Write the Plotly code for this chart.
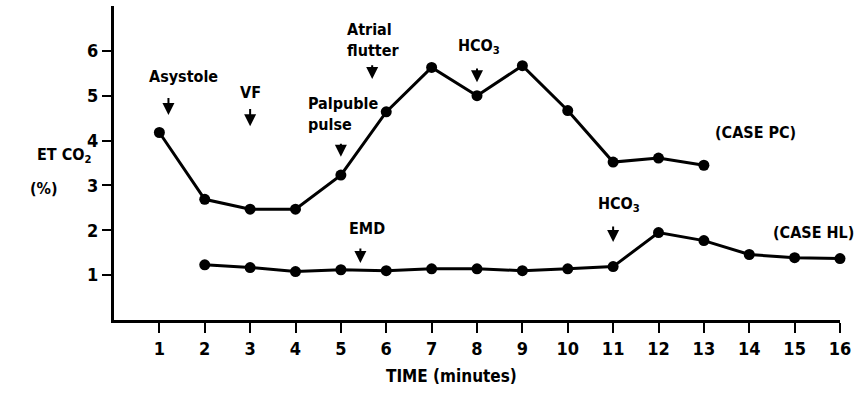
import plotly.graph_objects as go

minutes_pc = [1, 2, 3, 4, 5, 6, 7, 8, 9, 10, 11, 12, 13]
etco2_pc = [4.18, 2.69, 2.47, 2.47, 3.23, 4.64, 5.63, 5.0, 5.67, 4.67, 3.52, 3.61, 3.45]

minutes_hl = [2, 3, 4, 5, 6, 7, 8, 9, 10, 11, 12, 13, 14, 15, 16]
etco2_hl = [1.23, 1.17, 1.08, 1.12, 1.10, 1.14, 1.14, 1.10, 1.14, 1.19, 1.95, 1.77, 1.46, 1.39, 1.37]

x_ticks = list(range(1, 17))
y_ticks = [1, 2, 3, 4, 5, 6]

# event labels: text, x, y, anchor
event_texts = ["Asystole", "VF", "Palpuble<br>pulse", "Atrial<br>flutter", "HCO<sub>3</sub>",
               "(CASE PC)", "EMD", "HCO<sub>3</sub>", "(CASE HL)"]
event_x = [1.53, 3.0, 4.24, 5.10, 8.05, 14.14, 5.58, 11.12, 15.41]
event_y = [5.42, 5.08, 4.59, 6.24, 6.09, 4.18, 2.05, 2.57, 1.96]
event_anchor = ["center", "center", "left", "left", "center", "center", "center", "center", "center"]

# arrows: x, tail y, tip y
arrow_x = [1.2, 3.0, 5.0, 5.69, 8.0, 5.43, 11.0]
arrow_tail = [4.98, 4.74, 3.96, 5.71, 5.64, 1.63, 2.12]
arrow_tip = [4.57, 4.32, 3.64, 5.37, 5.30, 1.27, 1.74]

FONT = "DejaVu Sans Condensed, Liberation Sans Narrow, sans-serif"

fig = go.Figure()
for xs, ys in [(minutes_pc, etco2_pc), (minutes_hl, etco2_hl)]:
    fig.add_trace(go.Scatter(
        x=xs, y=ys, mode="lines+markers",
        line=dict(color="black", width=3),
        marker=dict(color="black", size=11),
        cliponaxis=False, showlegend=False, hoverinfo="skip"))

annotations = []
for t, x, y, a in zip(event_texts, event_x, event_y, event_anchor):
    annotations.append(dict(text="<b>" + t + "</b>", x=x, y=y, xref="x", yref="y",
                            showarrow=False, xanchor=a, align="left",
                            font=dict(size=16, color="black", family=FONT)))
for x, yt, yp in zip(arrow_x, arrow_tail, arrow_tip):
    annotations.append(dict(text="", x=x, y=yp, ax=x, ay=yt, xref="x", yref="y",
                            axref="x", ayref="y", showarrow=True, arrowhead=2,
                            arrowsize=1.2, arrowwidth=2, arrowcolor="black"))
annotations.append(dict(text="<b>ET CO<sub>2</sub></b>", x=-0.109, y=0.525, xref="paper", yref="paper",
                        showarrow=False, font=dict(size=16, color="black", family=FONT)))
annotations.append(dict(text="<b>(%)</b>", x=-0.118, y=0.42, xref="paper", yref="paper",
                        showarrow=False, font=dict(size=16, color="black", family=FONT)))
annotations.append(dict(text="<b>TIME (minutes)</b>", x=0.465, y=-0.217, xref="paper", yref="paper",
                        showarrow=False, font=dict(size=17, color="black", family=FONT)))

fig.update_layout(
    width=865, height=404,
    margin=dict(l=114, r=25, t=6, b=84),
    paper_bgcolor="white", plot_bgcolor="white",
    annotations=annotations,
    font=dict(family=FONT, color="black"),
    xaxis=dict(range=[0, 16], tickvals=x_ticks, ticktext=["<b>%d</b>" % v for v in x_ticks],
               showgrid=False, zeroline=False, showline=True, linecolor="black", linewidth=3,
               ticks="outside", ticklen=10, tickwidth=2, tickcolor="black",
               tickfont=dict(size=18, family=FONT, color="black")),
    yaxis=dict(range=[0, 7], tickvals=y_ticks, ticktext=["<b>%d</b>" % v for v in y_ticks],
               showgrid=False, zeroline=False, showline=True, linecolor="black", linewidth=3,
               ticks="outside", ticklen=9, tickwidth=2, tickcolor="black",
               tickfont=dict(size=18, family=FONT, color="black")),
)

fig.write_html("out.html", config={"displayModeBar": False},
               post_script="document.body.style.margin='0';")
